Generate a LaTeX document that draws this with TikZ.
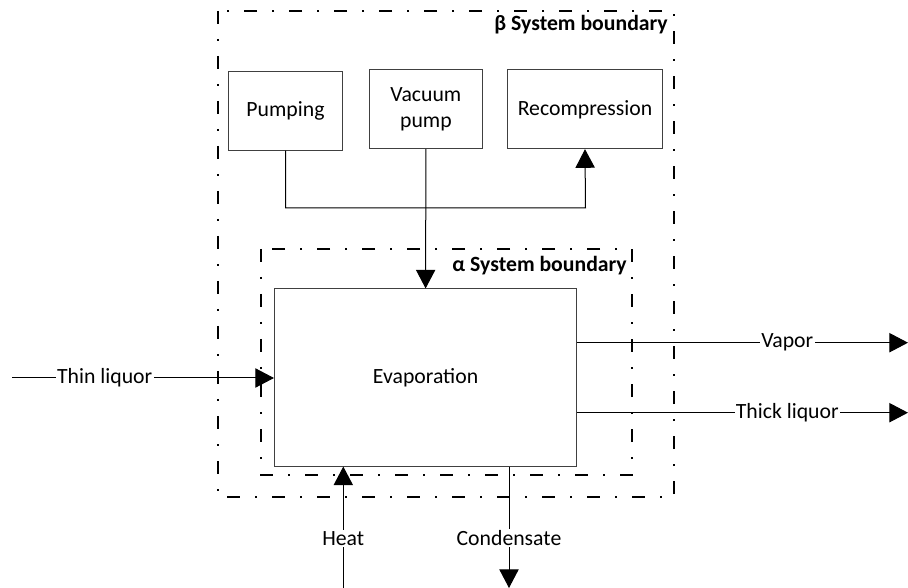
\documentclass[tikz,border=0pt]{standalone}
\usepackage{fontspec}
\setmainfont{Carlito}
\usepackage{tikz}
\usetikzlibrary{arrows.meta}

\begin{document}
\begin{tikzpicture}[x=0.75pt,y=-0.75pt,
		font=\fontsize{16.3}{19.5}\selectfont,
		unit/.style={draw=black!75,line width=0.75pt,inner sep=2pt,align=center},
		flow/.style={draw=black,line width=0.75pt,-{Triangle[length=14pt,width=14.5pt]}},
		bound/.style={draw=black,line width=2.2pt,dash pattern=on 9.75pt off 11.25pt on 1.5pt off 11.25pt},
		lbl/.style={fill=white,inner sep=1pt},
		boundlbl/.style={anchor=east,inner sep=0pt,font=\fontsize{16.3}{19.5}\selectfont\bfseries}]
		\useasboundingbox (0,0) rectangle (908,588);
		% system boundaries
		\draw[bound] (218,11) rectangle (674,497);
		\node[boundlbl] (betalbl) at (668,25) {β System boundary};
		\draw[bound] (261,249) rectangle (632,475);
		\node[boundlbl] (alphalbl) at (627,266) {α System boundary};
		% units
		\node[unit,minimum width=85.8pt,minimum height=58.7pt] (pumping) at (285.5,110.9) {Pumping};
		\node[unit,minimum width=85.3pt,minimum height=59pt] (vacuum) at (425.9,109.3) {Vacuum\\pump};
		\node[unit,minimum width=116.6pt,minimum height=59pt] (recomp) at (585,109.3) {Recompression};
		\node[unit,minimum width=226.7pt,minimum height=132.8pt] (evap) at (425.6,377.5) {Evaporation};
		% free ends
		\coordinate (jn) at (585.5,208);
		\coordinate (thinin) at (12,378);
		\coordinate (vapout) at (908,342.7);
		\coordinate (thickout) at (908,412.7);
		\coordinate (heatin) at (343.3,588);
		\coordinate (condout) at (509,588);
		% streams
		\draw[flow] (pumping.south) |- (jn) -- (recomp.south);
		\draw[flow] (vacuum.south) -- (evap.north);
		\draw[flow] (thinin) -- node[lbl,pos=0.354]{Thin liquor} (evap.west |- thinin);
		\draw[flow] (evap.east |- vapout) -- node[lbl,pos=0.635]{Vapor} (vapout);
		\draw[flow] (evap.east |- thickout) -- node[lbl,pos=0.635]{Thick liquor} (thickout);
		\draw[flow] (heatin) -- node[lbl,pos=0.41]{Heat} (evap.south -| heatin);
		\draw[flow] (evap.south -| condout) -- node[lbl,pos=0.59]{Condensate} (condout);
	\end{tikzpicture}
\end{document}
